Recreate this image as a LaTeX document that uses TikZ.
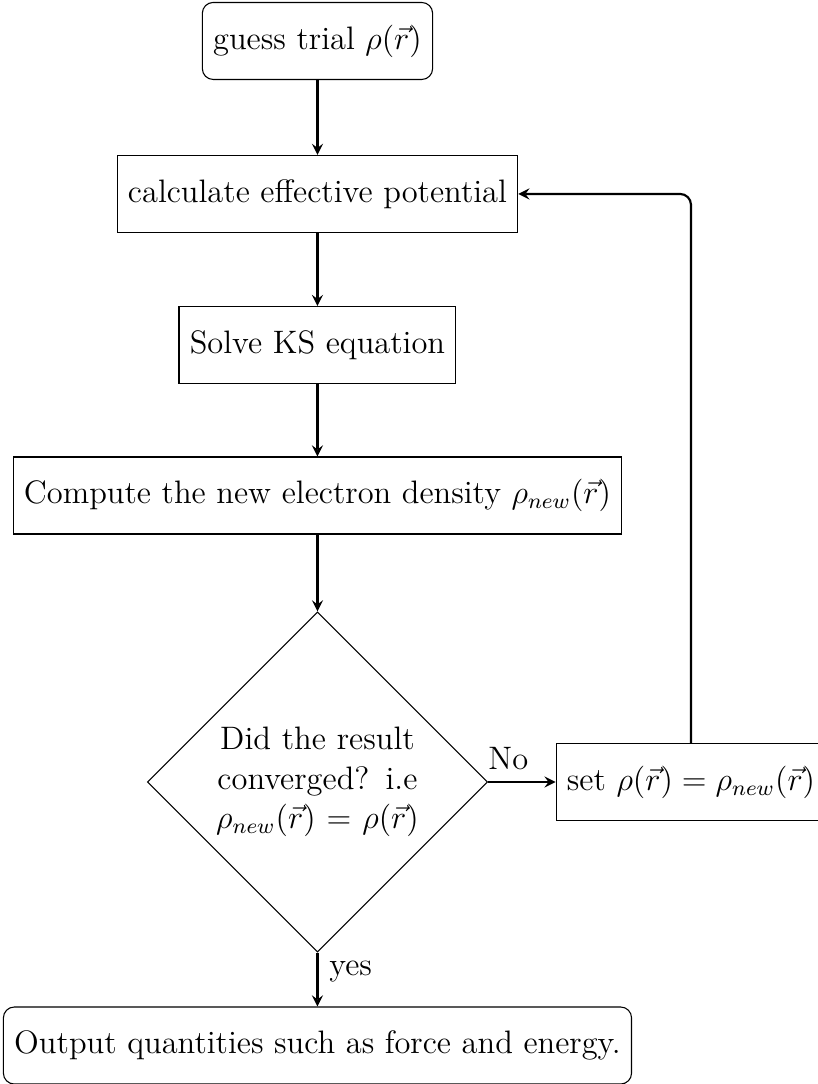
\documentclass[12pt,tikz,border=0pt]{standalone}
\usepackage{tikz}
\usetikzlibrary{
  shapes.geometric,
  arrows}

\begin{document}
\begin{tikzpicture}
\tikzset{
  startstop/.style={rectangle,rounded corners,draw=black,minimum height=1cm,text centered},
  process/.style={rectangle,draw=black,minimum height=1cm,text centered},
  decision/.style={diamond,draw=black,aspect=1,minimum width=4.32cm,inner sep=0pt,text width=3cm,align=center},
  flow arrow/.style={thick,->,>=stealth},
}
\useasboundingbox (0,0) rectangle (10.623,-14.078);
\node[startstop] (guess) at (4.123,-0.532) {guess trial $\rho(\vec{r})$};
\node[process] (veff) at (4.123,-2.519) {calculate effective potential};
\node[process] (ks) at (4.123,-4.481) {Solve KS equation};
\node[process] (dens) at (4.123,-6.435) {Compute the new electron density $\rho_{new}(\vec{r})$};
\node[decision] (conv) at (4.123,-10.156) {Did the result converged? i.e $\rho_{new}(\vec{r})=\rho(\vec{r})$};
\node[process] (mix) at (8.974,-10.156) {set $\rho(\vec{r})=\rho_{new}(\vec{r})$};
\node[startstop] (out) at (4.123,-13.578) {Output quantities such as force and energy.};

\draw[flow arrow] (guess) -- (veff);
\draw[flow arrow] (veff) -- (ks);
\draw[flow arrow] (ks) -- (dens);
\draw[flow arrow] (dens) -- (conv);
\draw[flow arrow] (conv) -- node[pos=0.3,above] {No} (mix);
\draw[flow arrow] (conv) -- node[pos=0.35,right] {yes} (out);
\draw[flow arrow,rounded corners] (mix.north) |- (veff.east);
\end{tikzpicture}
\end{document}
